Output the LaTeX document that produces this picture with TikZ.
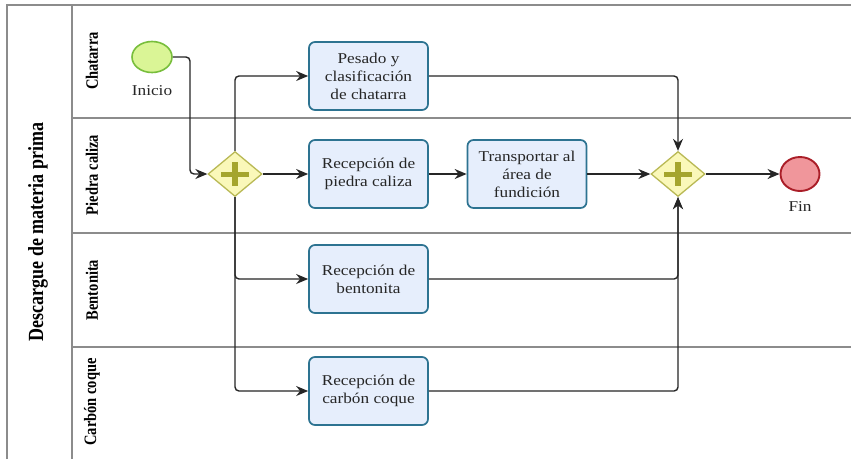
\documentclass[tikz,border=0pt]{standalone}
\usepackage{fontspec}
\usepackage{graphicx}
\setmainfont{Liberation Serif}
\newfontfamily\taskfont[FakeStretch=1.15]{Liberation Serif}
\usetikzlibrary{arrows.meta,shapes.geometric,calc}
\definecolor{lanegray}{RGB}{140,140,140}
\definecolor{taskfill}{RGB}{230,238,252}
\definecolor{taskdraw}{RGB}{45,115,145}
\definecolor{gatefill}{RGB}{250,248,185}
\definecolor{gatedraw}{RGB}{185,185,85}
\definecolor{gateplus}{RGB}{165,165,45}
\definecolor{startfill}{RGB}{218,245,150}
\definecolor{startdraw}{RGB}{120,190,60}
\definecolor{endfill}{RGB}{240,150,155}
\definecolor{enddraw}{RGB}{170,30,40}
\tikzset{
  lane/.style={draw=lanegray, line width=1.3pt},
  task/.style={draw=taskdraw, fill=taskfill, line width=1.7pt, rounded corners=6pt,
    minimum width=119pt, minimum height=68pt, align=center,
    font=\taskfont\fontsize{15}{18}\selectfont, text=black!85},
  gate/.style={diamond, draw=gatedraw, fill=gatefill, line width=1.3pt,
    minimum width=54pt, minimum height=45pt, inner sep=0pt, aspect=1.2},
  startev/.style={ellipse, draw=startdraw, fill=startfill, line width=1.6pt,
    minimum width=40pt, minimum height=31pt, inner sep=0pt},
  endev/.style={ellipse, draw=enddraw, fill=endfill, line width=1.9pt,
    minimum width=39pt, minimum height=34pt, inner sep=0pt},
  flow/.style={draw=black!85, line width=1.4pt, rounded corners=4pt,
    -{Stealth[length=12pt,width=10pt]}},
  lanelabel/.style={rotate=90, font=\bfseries\fontsize{14.5}{16}\selectfont},
  evlabel/.style={font=\taskfont\fontsize{15}{18}\selectfont, text=black!85},
}
% stretches rotated labels across the lane, as the glyphs are drawn wide
\newcommand{\tallbox}[1]{\scalebox{1}[1.2]{#1}}
\newcommand{\plusmark}[1]{%
  \fill[gateplus] ($(#1)+(-14pt,-2.5pt)$) rectangle ($(#1)+(14pt,2.5pt)$);
  \fill[gateplus] ($(#1)+(-3pt,-12pt)$) rectangle ($(#1)+(3pt,12pt)$);}
\begin{document}
\begin{tikzpicture}[x=1pt,y=-1pt]
\useasboundingbox (0,0) rectangle (851,459);
\fill[white] (0,0) rectangle (851,459);
% pool and lanes
\draw[lane] (7,459) -- (7,5) -- (851,5);
\draw[lane] (72,5) -- (72,459);
\draw[lane] (72,118) -- (851,118);
\draw[lane] (72,233) -- (851,233);
\draw[lane] (72,347) -- (851,347);
\node[rotate=90, font=\bfseries\fontsize{18}{20}\selectfont] (pool) at (38,232) {\tallbox{Descargue de materia prima}};
\node[lanelabel] (l1) at (92,61) {\tallbox{Chatarra}};
\node[lanelabel] (l2) at (92,175) {\tallbox{Piedra caliza}};
\node[lanelabel] (l3) at (92,290) {\tallbox{Bentonita}};
\node[lanelabel] (l4) at (92,402) {\tallbox{Carbón coque}};
% events and gateways
\node[startev] (start) at (152,57) {};
\node[evlabel] (startlbl) at (152,91) {Inicio};
\node[gate] (g1) at (235,174) {};
\node[gate] (g2) at (678,174) {};
\node[endev] (end) at (800,174) {};
\node[evlabel] (endlbl) at (800,207) {Fin};
\plusmark{g1}
\plusmark{g2}
% tasks
\node[task] (t1) at (368.5,76) {Pesado y\\clasificación\\de chatarra};
\node[task] (t2) at (368.5,174) {Recepción de\\piedra caliza};
\node[task] (t3) at (527,174) {Transportar al\\área de\\fundición};
\node[task] (t4) at (368.5,279) {Recepción de\\bentonita};
\node[task] (t5) at (368.5,391) {Recepción de\\carbón coque};
% sequence flows
\draw[flow] (start.east) -| (190,100) |- (g1.west);
\draw[flow] (g1.north) |- (t1.west);
\draw[flow] (g1.east) -- (t2.west);
\draw[flow] (g1.south) |- (t4.west);
\draw[flow] (g1.south) |- (t5.west);
\draw[flow] (t2.east) -- (t3.west);
\draw[flow] (t3.east) -- (g2.west);
\draw[flow] (t1.east) -| (g2.north);
\draw[flow] (t4.east) -| (g2.south);
\draw[flow] (t5.east) -| (g2.south);
\draw[flow] (g2.east) -- (end.west);
\end{tikzpicture}
\end{document}
